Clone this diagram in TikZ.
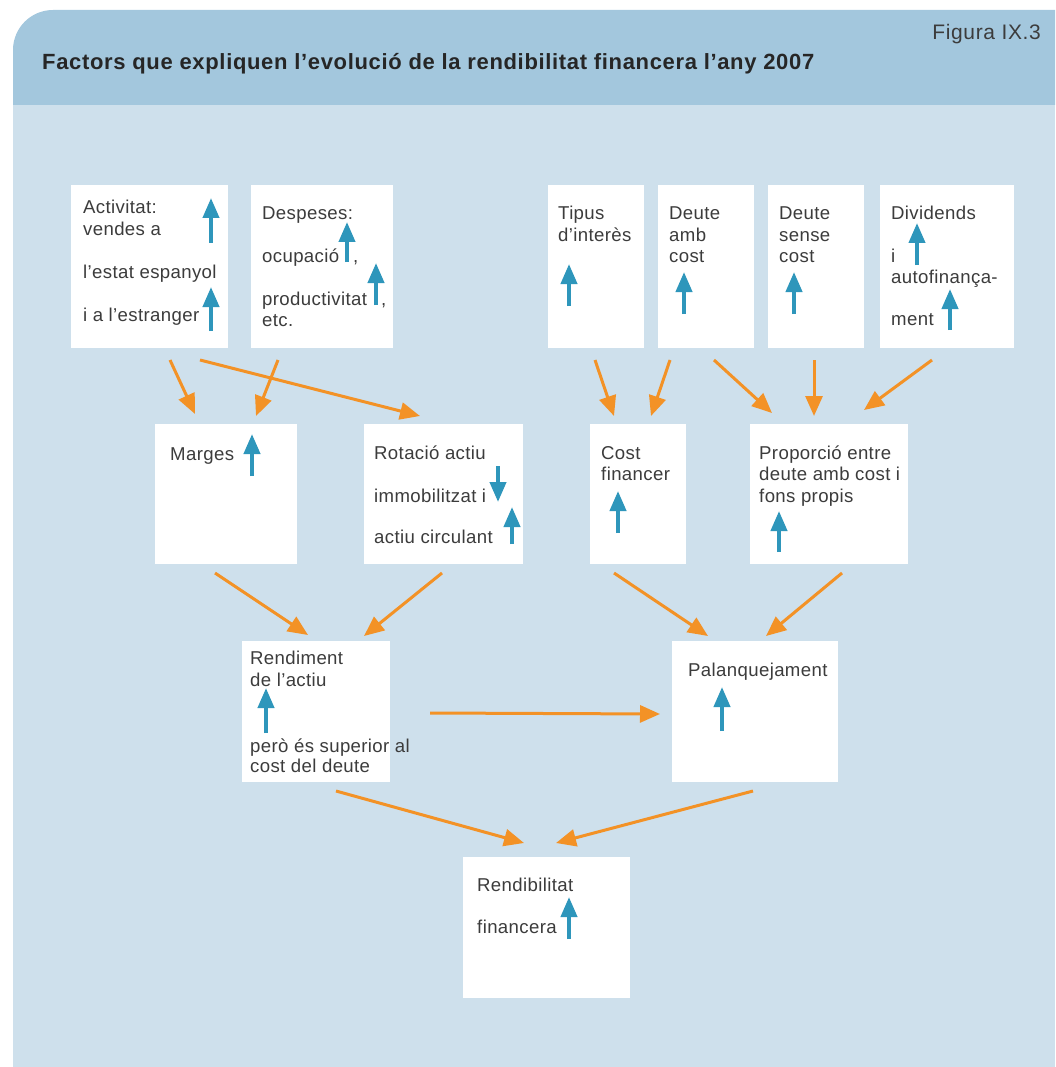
\documentclass[tikz,border=0pt]{standalone}
\usepackage{fontspec}
\setmainfont{Liberation Sans}
\newfontfamily\bodyfont[LetterSpace=2]{Liberation Sans}
\newfontfamily\headfont[LetterSpace=3]{Liberation Sans}
\usetikzlibrary{arrows.meta}
\definecolor{headblue}{RGB}{163,199,221}
\definecolor{bodyblue}{RGB}{206,224,236}
\definecolor{flow}{RGB}{243,146,38}
\definecolor{trend}{RGB}{46,150,187}
\definecolor{ink}{RGB}{60,60,60}
% text line: name, x, baseline y, text
\newcommand\lab[4]{\node[lbl] (#1) at (#2,#3) {#4};}
% trend arrow: x, tail y, tip y
\newcommand\trend[3]{\draw[trendarrow] (#1,#2) -- (#1,#3);}
\begin{document}
\begin{tikzpicture}[x=1pt,y=-1pt,
  box/.style={fill=white, draw=none, inner sep=0pt, outer sep=0pt, anchor=north west},
  lbl/.style={anchor=base west, inner sep=0pt, text=ink, font=\bodyfont\fontsize{18.6}{21}\selectfont},
  flowarrow/.style={draw=flow, line width=3pt, -{Triangle[length=20pt,width=17pt]}},
  trendarrow/.style={draw=trend, line width=4pt, -{Triangle[length=20pt,width=16pt]}},
]
\useasboundingbox (0,0) rectangle (1055,1067);
% panel
\fill[bodyblue] (13,105) rectangle (1055,1067);
\fill[headblue] (13,105) [rounded corners=40pt] -- (13,10) [sharp corners] -- (1055,10) -- (1055,105) -- cycle;
\node[anchor=base west, inner sep=0pt, font=\headfont\bfseries\fontsize{22}{26}\selectfont, text=black!85] (title) at (42,70)
  {Factors que expliquen l’evolució de la rendibilitat financera l’any 2007};
\node[anchor=base east, inner sep=0pt, font=\headfont\fontsize{21}{25}\selectfont, text=ink] (fig) at (1041,40) {Figura IX.3};

% boxes
\node[box, minimum width=157pt, minimum height=163pt] (act) at (71,185) {};
\node[box, minimum width=142pt, minimum height=163pt] (des) at (251,185) {};
\node[box, minimum width=96pt,  minimum height=163pt] (tip) at (548,185) {};
\node[box, minimum width=96pt,  minimum height=163pt] (dac) at (658,185) {};
\node[box, minimum width=96pt,  minimum height=163pt] (dsc) at (768,185) {};
\node[box, minimum width=134pt, minimum height=163pt] (div) at (880,185) {};
\node[box, minimum width=142pt, minimum height=140pt] (mar) at (155,424) {};
\node[box, minimum width=159pt, minimum height=140pt] (rot) at (364,424) {};
\node[box, minimum width=96pt,  minimum height=140pt] (cfi) at (590,424) {};
\node[box, minimum width=158pt, minimum height=140pt] (pro) at (750,424) {};
\node[box, minimum width=148pt, minimum height=141pt] (ren) at (242,641) {};
\node[box, minimum width=166pt, minimum height=141pt] (pal) at (672,641) {};
\node[box, minimum width=167pt, minimum height=141pt] (rfi) at (463,857) {};

% texts
\lab{act1}{83}{214}{Activitat:}
\lab{act2}{83}{236}{vendes a}
\lab{act3}{83}{278}{l’estat espanyol}
\lab{act4}{83}{321}{i a l’estranger}
\lab{des1}{262}{220}{Despeses:}
\lab{des2}{262}{262}{ocupació}
\lab{des2c}{353}{262}{,}
\lab{des3}{262}{305}{productivitat}
\lab{des3c}{381}{305}{,}
\lab{des4}{262}{326}{etc.}
\lab{tip1}{558}{220}{Tipus}
\lab{tip2}{558}{241}{d’interès}
\lab{dac1}{669}{220}{Deute}
\lab{dac2}{669}{241}{amb}
\lab{dac3}{669}{262}{cost}
\lab{dsc1}{779}{220}{Deute}
\lab{dsc2}{779}{241}{sense}
\lab{dsc3}{779}{262}{cost}
\lab{div1}{891}{220}{Dividends}
\lab{div2}{891}{262}{i}
\lab{div3}{891}{283}{autofinança-}
\lab{div4}{891}{325}{ment}
\lab{mar1}{170}{460}{Marges}
\lab{rot1}{374}{459}{Rotació actiu}
\lab{rot2}{374}{502}{immobilitzat i}
\lab{rot3}{374}{543}{actiu circulant}
\lab{cfi1}{601}{459}{Cost}
\lab{cfi2}{601}{480}{financer}
\lab{pro1}{759}{459}{Proporció entre}
\lab{pro2}{759}{480}{deute amb cost i}
\lab{pro3}{759}{502}{fons propis}
\lab{ren1}{250}{664}{Rendiment}
\lab{ren2}{250}{686}{de l’actiu}
\lab{ren3}{250}{752}{però és superior al}
\lab{ren4}{250}{772}{cost del deute}
\lab{pal1}{688}{676}{Palanquejament}
\lab{rfi1}{477}{891}{Rendibilitat}
\lab{rfi2}{477}{933}{financera}

% trend arrows
\trend{211}{243}{198}
\trend{211}{331}{287}
\trend{347}{262}{222}
\trend{376}{305}{263}
\trend{569}{306}{264}
\trend{684}{314}{272}
\trend{794}{314}{272}
\trend{917}{265}{223}
\trend{950}{330}{289}
\trend{252}{476}{434}
\trend{498}{466}{502}
\trend{512}{544}{507}
\trend{618}{533}{491}
\trend{779}{552}{511}
\trend{266}{733}{688}
\trend{722}{731}{687}
\trend{569}{939}{897}

% flows between boxes
\draw[flowarrow] ([shift={(20.5,12)}]act.south) -- ([shift={(-31,-10)}]mar.north);
\draw[flowarrow] ([shift={(50.5,12)}]act.south) -- ([shift={(-23.5,-8)}]rot.north);
\draw[flowarrow] ([shift={(-44,12)}]des.south) -- ([shift={(30,-8)}]mar.north);
\draw[flowarrow] ([shift={(-1,12)}]tip.south) -- ([shift={(-24,-8)}]cfi.north);
\draw[flowarrow] ([shift={(-36,12)}]dac.south) -- ([shift={(13,-8)}]cfi.north);
\draw[flowarrow] ([shift={(8,12)}]dac.south) -- ([shift={(-57,-11)}]pro.north);
\draw[flowarrow] ([shift={(-2,12)}]dsc.south) -- ([shift={(-15,-8)}]pro.north);
\draw[flowarrow] ([shift={(-15,12)}]div.south) -- ([shift={(35,-14)}]pro.north);
\draw[flowarrow] ([shift={(-11,9)}]mar.south) -- ([shift={(-8,-6)}]ren.north);
\draw[flowarrow] ([shift={(-1.5,9)}]rot.south) -- ([shift={(48,-5)}]ren.north);
\draw[flowarrow] ([shift={(-24,9)}]cfi.south) -- ([shift={(-47,-5)}]pal.north);
\draw[flowarrow] ([shift={(13,9)}]pro.south) -- ([shift={(11,-5)}]pal.north);
\draw[flowarrow] ([shift={(40,1.5)}]ren.east) -- ([shift={(-12,2.5)}]pal.west);
\draw[flowarrow] ([shift={(20,9)}]ren.south) -- ([shift={(-22.5,-14)}]rfi.north);
\draw[flowarrow] ([shift={(-2,9)}]pal.south) -- ([shift={(9.5,-14)}]rfi.north);
\end{tikzpicture}
\end{document}
